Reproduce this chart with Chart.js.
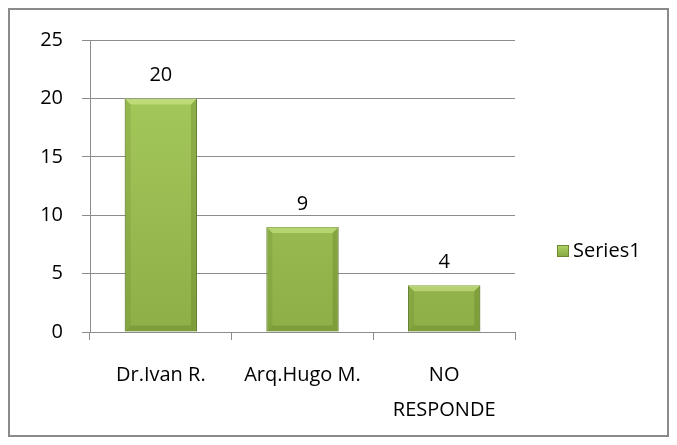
<!DOCTYPE html>
<html>
<head>
<meta charset="utf-8">
<script src="https://cdn.jsdelivr.net/npm/chart.js@4/dist/chart.umd.min.js"></script>
<style>
  html, body { margin: 0; padding: 0; background: #fff; }
  #wrap { width: 677px; height: 445px; }
</style>
</head>
<body>
<div id="wrap"><canvas id="chart" width="677" height="445"></canvas></div>
<script>
// datos del grafico
const categories = ['Dr.Ivan R.', 'Arq.Hugo M.', ['NO', 'RESPONDE']];
const series1 = [20, 9, 4];
const seriesName = 'Series1';
const yTicks = [0, 5, 10, 15, 20, 25];

const FONT = '"Open Sans", sans-serif';
const FSIZE = 20;

function barFill(ctx, area) {
    const g = ctx.createLinearGradient(0, area.top, 0, area.bottom);
    g.addColorStop(0, '#a9cd5e');
    g.addColorStop(1, '#8eae47');
    return g;
}

// borde exterior, leyenda y etiquetas de datos
const decorPlugin = {
    id: 'decor',
    beforeDraw(chart) {
        const c = chart.ctx;
        c.save();
        c.fillStyle = '#fff';
        c.fillRect(0, 0, chart.width, chart.height);
        c.strokeStyle = '#8a8a8a';
        c.lineWidth = 2;
        c.strokeRect(9, 9, 659, 427);
        c.restore();
    },
    afterDatasetsDraw(chart) {
        const c = chart.ctx;
        const meta = chart.getDatasetMeta(0);
        c.save();
        meta.data.forEach((bar, i) => {
            const left = bar.x - bar.width / 2, right = bar.x + bar.width / 2;
            const top = bar.y, bottom = bar.base, b = 6;
            // bisel superior claro
            c.fillStyle = 'rgba(215,240,150,0.5)';
            c.beginPath();
            c.moveTo(left, top); c.lineTo(right, top);
            c.lineTo(right - b, top + b); c.lineTo(left + b, top + b);
            c.closePath(); c.fill();
            // bordes laterales / inferior mas oscuros
            c.fillStyle = 'rgba(90,120,30,0.3)';
            c.beginPath();
            c.moveTo(right, top); c.lineTo(right, bottom);
            c.lineTo(right - b, bottom - b); c.lineTo(right - b, top + b);
            c.closePath(); c.fill();
            c.beginPath();
            c.moveTo(left, bottom); c.lineTo(right, bottom);
            c.lineTo(right - b, bottom - b); c.lineTo(left + b, bottom - b);
            c.closePath(); c.fill();
            c.fillStyle = 'rgba(90,120,30,0.18)';
            c.beginPath();
            c.moveTo(left, top); c.lineTo(left, bottom);
            c.lineTo(left + b, bottom - b); c.lineTo(left + b, top + b);
            c.closePath(); c.fill();
            // etiqueta de valor
            c.fillStyle = '#000';
            c.font = FSIZE + 'px ' + FONT;
            c.textAlign = 'center';
            c.textBaseline = 'middle';
            c.fillText(String(series1[i]), bar.x, bar.y - 23);
        });
        // leyenda
        const g = c.createLinearGradient(0, 245, 0, 257);
        g.addColorStop(0, '#b0d565');
        g.addColorStop(1, '#86a63f');
        c.fillStyle = g;
        c.fillRect(557, 245, 12, 12);
        c.strokeStyle = '#6b8a30';
        c.lineWidth = 1;
        c.strokeRect(557.5, 245.5, 11, 11);
        c.fillStyle = '#000';
        c.font = FSIZE + 'px ' + FONT;
        c.textAlign = 'left';
        c.textBaseline = 'middle';
        c.fillText(seriesName, 573, 251);
        c.restore();
    }
};

new Chart(document.getElementById('chart'), {
    type: 'bar',
    data: {
        labels: categories,
        datasets: [{
            label: seriesName,
            data: series1,
            backgroundColor: (ctx) => {
                const area = ctx.chart.chartArea;
                if (!area) return '#9bbb59';
                return barFill(ctx.chart.ctx, area);
            },
            borderColor: '#5f7a2a',
            borderWidth: 1,
            categoryPercentage: 1,
            barPercentage: 0.51
        }]
    },
    options: {
        responsive: false,
        animation: false,
        layout: { padding: { left: 8, right: 162, top: 40, bottom: 0 } },
        plugins: {
            legend: { display: false },
            tooltip: { enabled: false }
        },
        scales: {
            y: {
                min: 0,
                max: 25,
                afterBuildTicks: (axis) => { axis.ticks = yTicks.map(v => ({ value: v })); },
                afterFit: (axis) => { axis.width = 82; },
                grid: { color: '#8c8c8c', lineWidth: 1, tickLength: 8, drawTicks: true },
                border: { color: '#8c8c8c', width: 1 },
                ticks: { color: '#000', font: { family: FONT, size: FSIZE }, padding: 19 }
            },
            x: {
                offset: true,
                afterFit: (axis) => { axis.height = 113; },
                grid: { offset: true, drawOnChartArea: false, drawTicks: true, tickLength: 8, color: '#8c8c8c' },
                border: { color: '#8c8c8c', width: 1 },
                ticks: { color: '#000', font: { family: FONT, size: FSIZE, lineHeight: 1.75 }, padding: 18, maxRotation: 0 }
            }
        }
    },
    plugins: [decorPlugin]
});
</script>
</body>
</html>
